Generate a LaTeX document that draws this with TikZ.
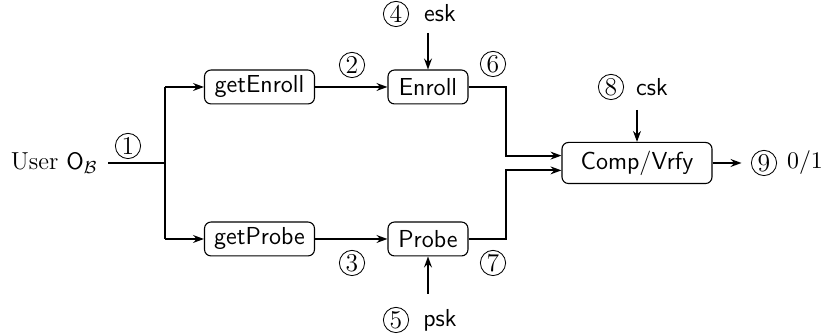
\documentclass[tikz,border=0pt]{standalone}
\usetikzlibrary{arrows.meta}
\begin{document}
\begin{tikzpicture}[x=0.46pt,y=-0.46pt,
  every node/.append style={font=\fontsize{11.3}{13}\selectfont},
  blk/.style={draw,rounded corners=3pt,font=\fontsize{11.3}{13}\selectfont\sffamily,inner xsep=2pt,inner ysep=0pt,line width=0.5pt},
  num/.style={circle,draw,inner sep=0pt,minimum size=11.6pt,line width=0.4pt,font=\fontsize{11.8}{13}\selectfont\rmfamily},
  lbl/.style={font=\fontsize{11.3}{13}\selectfont\sffamily,inner sep=0pt},
  wire/.style={line width=0.9pt},
  arr/.style={wire,-{Stealth[length=5pt,width=3.6pt]}}]
\useasboundingbox (0,0) rectangle (826,336);

% inputs and processing blocks
\node[inner sep=0pt,anchor=east] (user) at (98,163) {User $\mathsf{O}_{\mathcal{B}}$};
\coordinate (j) at (165,163);
\node[blk,minimum width=50.6pt,minimum height=15.6pt] (getE) at (259.5,87) {getEnroll};
\node[blk,minimum width=50.6pt,minimum height=15.6pt] (getP) at (259.5,239) {getProbe};
\node[blk,minimum width=36.8pt,minimum height=15.6pt] (enr) at (428,87) {Enroll};
\node[blk,minimum width=36.8pt,minimum height=15.6pt] (prb) at (428,239) {Probe};
\node[blk,minimum width=69pt,minimum height=18.9pt] (comp) at (637,163) {Comp/Vrfy};

% step numbers
\node[num] (n1) at (128,146) {1};
\node[num] (n2) at (352,65) {2};
\node[num] (n3) at (352,263) {3};
\node[num] (n4) at (396,14) {4};
\node[lbl] (esk) at (440,13) {esk};
\node[num] (n5) at (396,320) {5};
\node[lbl] (psk) at (440,320) {psk};
\node[num] (n6) at (493,64) {6};
\node[num] (n7) at (493,263) {7};
\node[num] (n8) at (611,87) {8};
\node[lbl] (csk) at (652,87) {csk};
\node[num] (n9) at (764,163) {9};
\node[inner sep=0pt] (out) at (805,163) {$0/1$};

% key inputs
\coordinate (k4) at (428,33);
\coordinate (k5) at (428,294);
\coordinate (k8) at (637,110);

% connectors
\draw[wire] (user.east) ++(10,0) -- (j);
\draw[wire] (165,87) -- (165,239);
\draw[arr] (165,87) -- (getE.west);
\draw[arr] (165,239) -- (getP.west);
\draw[arr] (getE) -- (enr);
\draw[arr] (getP) -- (prb);
\draw[arr] (k4) -- (enr.north);
\draw[arr] (k5) -- (prb.south);
\draw[arr] (k8) -- (comp.north);
\draw[arr] (enr.east) -- ++(37,0) |- ([yshift=3.4pt]comp.west);
\draw[arr] (prb.east) -- ++(37,0) |- ([yshift=-3.4pt]comp.west);
\draw[arr] (comp.east) -- ++(29,0);
\end{tikzpicture}
\end{document}
